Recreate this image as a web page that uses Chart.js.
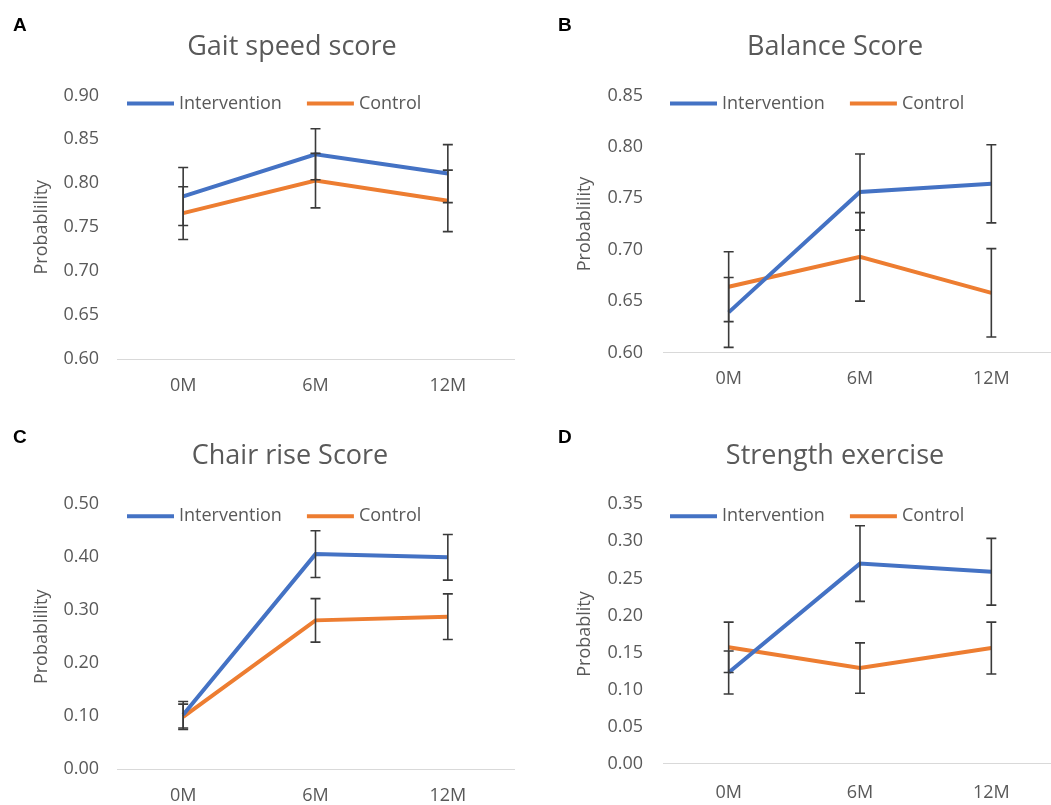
<!DOCTYPE html>
<html>
<head>
<meta charset="utf-8">
<script src="https://cdn.jsdelivr.net/npm/chart.js@4"></script>
<style>
  html, body { margin: 0; padding: 0; background: #fff; overflow: hidden; }
  body { width: 1051px; height: 805px; position: relative; }
  .panel { position: absolute; }
  .letter { position: absolute; font-family: "Liberation Sans", Arial, sans-serif; font-weight: bold; font-size: 19px; line-height: 19px; color: #000; }
</style>
</head>
<body>
<div class="panel" style="left:0;top:0"><canvas id="chartA" width="525" height="400"></canvas></div>
<div class="panel" style="left:525px;top:0"><canvas id="chartB" width="545" height="400"></canvas></div>
<div class="panel" style="left:0;top:400px"><canvas id="chartC" width="525" height="405"></canvas></div>
<div class="panel" style="left:525px;top:400px"><canvas id="chartD" width="545" height="405"></canvas></div>
<div class="letter" style="left:13px;top:15px">A</div>
<div class="letter" style="left:558px;top:15px">B</div>
<div class="letter" style="left:13px;top:427px">C</div>
<div class="letter" style="left:558px;top:427px">D</div>
<script>
const categories = ['0M', '6M', '12M'];
const seriesNames = ['Intervention', 'Control'];

// A - gait speed
const gaitIntervention = [0.785, 0.833, 0.811];
const gaitInterventionErr = [0.033, 0.029, 0.033];
const gaitControl = [0.766, 0.803, 0.780];
const gaitControlErr = [0.030, 0.031, 0.035];
const gaitTicks = [0.60, 0.90, 0.05]; // min, max, step

// B - balance
const balanceIntervention = [0.639, 0.756, 0.764];
const balanceInterventionErr = [0.034, 0.037, 0.038];
const balanceControl = [0.664, 0.693, 0.658];
const balanceControlErr = [0.034, 0.043, 0.043];
const balanceTicks = [0.60, 0.85, 0.05];

// C - chair rise
const chairIntervention = [0.103, 0.406, 0.400];
const chairInterventionErr = [0.025, 0.044, 0.043];
const chairControl = [0.099, 0.281, 0.288];
const chairControlErr = [0.024, 0.041, 0.043];
const chairTicks = [0.00, 0.50, 0.10];

// D - strength exercise
const strengthIntervention = [0.123, 0.270, 0.259];
const strengthInterventionErr = [0.029, 0.051, 0.045];
const strengthControl = [0.157, 0.129, 0.156];
const strengthControlErr = [0.034, 0.034, 0.035];
const strengthTicks = [0.00, 0.35, 0.05];

const BLUE = '#4472C4';
const ORANGE = '#ED7D31';
const TEXT = '#595959';
const FONT = '"Open Sans", "DejaVu Sans", sans-serif';

// error bars drawn through the y scale
const errorBars = {
    id: 'errorBars',
    afterDatasetsDraw(chart) {
        const ctx = chart.ctx;
        const y = chart.scales.y;
        ctx.save();
        ctx.strokeStyle = '#3a3a3a';
        ctx.lineWidth = 1.6;
        chart.data.datasets.forEach((ds, i) => {
            if (!ds.errors) return;
            const meta = chart.getDatasetMeta(i);
            meta.data.forEach((pt, j) => {
                const v = ds.data[j], e = ds.errors[j];
                const top = y.getPixelForValue(v + e);
                const bot = y.getPixelForValue(v - e);
                ctx.beginPath();
                ctx.moveTo(pt.x, top); ctx.lineTo(pt.x, bot);
                ctx.moveTo(pt.x - 5, top); ctx.lineTo(pt.x + 5, top);
                ctx.moveTo(pt.x - 5, bot); ctx.lineTo(pt.x + 5, bot);
                ctx.stroke();
            });
        });
        ctx.restore();
    }
};

// excel style legend sitting inside the plot area
const insideLegend = {
    id: 'insideLegend',
    afterDraw(chart, args, opts) {
        const ctx = chart.ctx;
        const area = chart.chartArea;
        let x = area.left + opts.x;
        const y = area.top + opts.y;
        ctx.save();
        ctx.font = '18px ' + FONT;
        ctx.textBaseline = 'middle';
        ctx.textAlign = 'left';
        chart.data.datasets.forEach(ds => {
            ctx.strokeStyle = ds.borderColor;
            ctx.lineWidth = ds.borderWidth;
            ctx.beginPath();
            ctx.moveTo(x, y); ctx.lineTo(x + 47, y);
            ctx.stroke();
            ctx.fillStyle = TEXT;
            ctx.fillText(ds.label, x + 52, y);
            x += 52 + ctx.measureText(ds.label).width + 25;
        });
        ctx.restore();
    }
};

// move the title over the plot like the original
const titleShift = {
    id: 'titleShift',
    afterLayout(chart, args, opts) {
        const t = chart.titleBlock;
        if (t) { t.left += opts.dx; t.right += opts.dx; }
    }
};

function makePanel(id, p) {
    const ctx = document.getElementById(id).getContext('2d');
    new Chart(ctx, {
        type: 'line',
        data: {
            labels: categories,
            datasets: [
                { label: seriesNames[0], data: p.intervention, errors: p.interventionErr,
                  borderColor: BLUE, backgroundColor: BLUE, borderWidth: 4, pointRadius: 0, tension: 0 },
                { label: seriesNames[1], data: p.control, errors: p.controlErr,
                  borderColor: ORANGE, backgroundColor: ORANGE, borderWidth: 4, pointRadius: 0, tension: 0 }
            ]
        },
        options: {
            responsive: false,
            animation: false,
            layout: { padding: { left: 0, top: 0, right: p.right, bottom: 0 } },
            scales: {
                x: {
                    offset: true,
                    grid: { display: false, drawTicks: false },
                    border: { display: true, color: '#d9d9d9', width: 1 },
                    ticks: { color: TEXT, font: { family: FONT, size: 18 }, padding: p.xPad },
                    afterFit: s => { s.height = p.xHeight; }
                },
                y: {
                    min: p.ticks[0],
                    max: p.ticks[1],
                    grid: { display: false, drawTicks: false },
                    border: { display: false },
                    ticks: {
                        stepSize: p.ticks[2],
                        color: TEXT,
                        font: { family: FONT, size: 18 },
                        padding: p.yPad,
                        callback: v => v.toFixed(2)
                    },
                    title: {
                        display: true,
                        text: p.yTitle,
                        color: TEXT,
                        font: { family: FONT, size: 18 },
                        padding: { top: p.yTitlePad, bottom: 0 }
                    },
                    afterFit: s => { s.width = p.yWidth; }
                }
            },
            plugins: {
                title: {
                    display: true,
                    text: p.title,
                    color: TEXT,
                    font: { family: FONT, size: 27, weight: 'normal' },
                    padding: { top: p.titleTop, bottom: p.titleBottom }
                },
                legend: { display: false },
                tooltip: { enabled: false },
                insideLegend: { x: p.legendX, y: p.legendY },
                titleShift: { dx: p.titleX }
            }
        },
        plugins: [errorBars, insideLegend, titleShift]
    });
}

makePanel('chartA', {
    title: 'Gait speed score', yTitle: 'Probablility',
    intervention: gaitIntervention, interventionErr: gaitInterventionErr,
    control: gaitControl, controlErr: gaitControlErr, ticks: gaitTicks,
    right: 11, yWidth: 117, xHeight: 41, xPad: 16, yPad: 18, yTitlePad: 31,
    titleTop: 31, titleBottom: 32, titleX: 35, legendX: 10, legendY: 8
});
makePanel('chartB', {
    title: 'Balance Score', yTitle: 'Probablility',
    intervention: balanceIntervention, interventionErr: balanceInterventionErr,
    control: balanceControl, controlErr: balanceControlErr, ticks: balanceTicks,
    right: 13, yWidth: 138, xHeight: 47.5, xPad: 16, yPad: 20, yTitlePad: 49,
    titleTop: 31, titleBottom: 32, titleX: 44, legendX: 7, legendY: 8
});
makePanel('chartC', {
    title: 'Chair rise Score', yTitle: 'Probablility',
    intervention: chairIntervention, interventionErr: chairInterventionErr,
    control: chairControl, controlErr: chairControlErr, ticks: chairTicks,
    right: 11, yWidth: 117, xHeight: 35.7, xPad: 16, yPad: 18, yTitlePad: 31,
    titleTop: 40.5, titleBottom: 31.4, titleX: 33, legendX: 10, legendY: 12
});
makePanel('chartD', {
    title: 'Strength exercise', yTitle: 'Probablity',
    intervention: strengthIntervention, interventionErr: strengthInterventionErr,
    control: strengthControl, controlErr: strengthControlErr, ticks: strengthTicks,
    right: 13, yWidth: 138, xHeight: 41.3, xPad: 18, yPad: 20, yTitlePad: 49,
    titleTop: 40.5, titleBottom: 31.4, titleX: 44, legendX: 7, legendY: 12
});
</script>
</body>
</html>
